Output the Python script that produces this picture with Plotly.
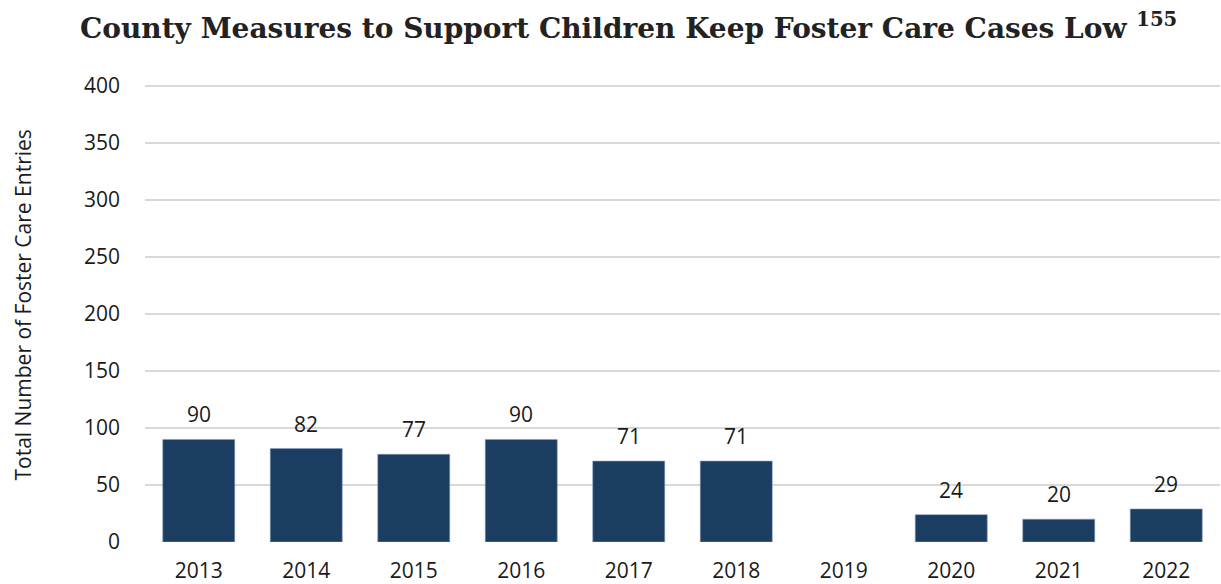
import plotly.graph_objects as go

years = ["2013", "2014", "2015", "2016", "2017", "2018", "2019", "2020", "2021", "2022"]
entries = [90, 82, 77, 90, 71, 71, None, 24, 20, 29]
y_ticks = [0, 50, 100, 150, 200, 250, 300, 350, 400]

bar_color = "#1b3d62"
font_fam = "Open Sans, Noto Sans, sans-serif"
text_color = "#1a1a1a"

fig = go.Figure(go.Bar(
    x=years, y=entries,
    marker=dict(color=bar_color, line=dict(color="#8aa0b8", width=0.6)),
    width=0.67,
))

labels = [
    dict(x=i, y=v, text=str(v), xref="x", yref="y", showarrow=False,
         yanchor="middle", yshift=25,
         font=dict(family=font_fam, size=21, color=text_color))
    for i, v in enumerate(entries) if v is not None
]

labels.append(dict(
    text="Total Number of Foster Care Entries",
    xref="paper", yref="paper", x=0, y=0.5, xshift=-123, yshift=8,
    xanchor="center", yanchor="middle",
    textangle=-90, showarrow=False,
    font=dict(family=font_fam, size=21, color=text_color),
))

fig.update_layout(
    width=1221, height=584,
    margin=dict(l=145, r=1, t=85, b=42),
    plot_bgcolor="white", paper_bgcolor="white",
    showlegend=False,
    title=dict(
        text="County Measures to Support Children Keep Foster Care Cases Low <sup>155</sup>",
        font=dict(family="DejaVu Serif, serif", size=28, color="#222222", weight="bold"),
        x=80/1221, xanchor="left", y=1-28/584, yanchor="middle",
    ),
    xaxis=dict(
        type="category", categoryorder="array", categoryarray=years,
        range=[-0.5, len(years) - 0.5],
        showgrid=False, showline=False, zeroline=False,
        tickfont=dict(family=font_fam, size=21, color=text_color),
        ticklabelstandoff=14,
    ),
    yaxis=dict(
        range=[0, 401], tickvals=y_ticks, showgrid=True, gridcolor="#d9d9d9", gridwidth=1.5,
        zeroline=False, showline=False,
        tickfont=dict(family=font_fam, size=21, color=text_color),
        ticklabelstandoff=24,
    ),
    annotations=labels,
)

fig.write_html("out.html", config={"displayModeBar": False},
               post_script="document.body.style.margin='0';")
